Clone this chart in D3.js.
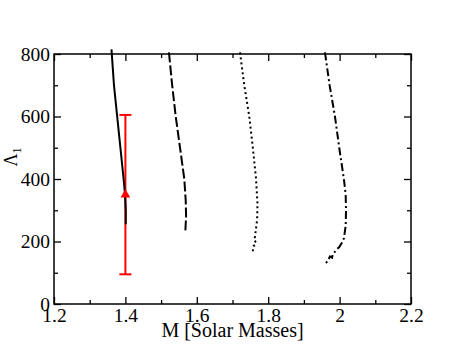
<!DOCTYPE html>
<html>
<head>
<meta charset="utf-8">
<script src="https://cdn.jsdelivr.net/npm/d3@7"></script>
<style>
  body { margin: 0; background: #fff; }
  svg text { font-family: "Liberation Serif", "DejaVu Serif", serif !important; }
</style>
</head>
<body>
<main></main>
<script>
// tick values
const xMajor = [1.2, 1.4, 1.6, 1.8, 2.0, 2.2];
const xMinor = [1.3, 1.5, 1.7, 1.9, 2.1];
const yMajor = [0, 200, 400, 600, 800];
const yMinor = [100, 300, 500, 700];

// mass-tidal deformability curves [M, Lambda]
const solidCurve = [[1.361, 815], [1.368, 700], [1.377, 600], [1.386, 500], [1.395, 400],
  [1.399, 350], [1.401, 300], [1.401, 255]];
const dashedCurve = [[1.522, 805], [1.531, 700], [1.541, 600], [1.553, 500], [1.565, 400],
  [1.569, 330], [1.570, 280], [1.568, 235]];
const dottedCurve = [[1.721, 805], [1.733, 700], [1.747, 600], [1.757, 500], [1.766, 400],
  [1.770, 320], [1.769, 270], [1.765, 235], [1.763, 215], [1.760, 205], [1.764, 200],
  [1.758, 190], [1.761, 185], [1.757, 172], [1.758, 160]];
const dashDotCurve = [[1.959, 805], [1.972, 700], [1.987, 600], [1.999, 500], [2.012, 400],
  [2.017, 350], [2.018, 300], [2.017, 250], [2.012, 210], [2.006, 195], [1.999, 182],
  [1.993, 176], [1.986, 166], [1.981, 160], [1.979, 148], [1.973, 152], [1.966, 136], [1.961, 131]];

// measurement with error bar
const measurement = { mass: 1.4, lambda: 350, low: 95, high: 605 };

const width = 463;
const height = 358;
const margin = { left: 54, right: 52, top: 54, bottom: 54 };
const tickFont = 19.5;

const svg = d3.select('main')
  .append('svg')
  .attr('width', width)
  .attr('height', height);

const xScale = d3.scaleLinear()
  .domain([1.2, 2.2])
  .range([margin.left, width - margin.right]);

const yScale = d3.scaleLinear()
  .domain([0, 800])
  .range([height - margin.bottom, margin.top]);

const plotW = width - margin.left - margin.right;
const plotH = height - margin.top - margin.bottom;

// ticks on all four sides, pointing inward
const addAxis = (axis, transform) => {
  const g = svg.append('g')
    .attr('transform', transform)
    .call(axis);
  g.select('.domain').remove();
  g.selectAll('line').attr('stroke', '#000').attr('stroke-width', 1.3);
  return g;
};

const xLabels = addAxis(d3.axisBottom(xScale).tickValues(xMajor).tickSizeInner(-7).tickSizeOuter(0)
  .tickPadding(4).tickFormat(d3.format('')), `translate(0, ${yScale(0)})`);
addAxis(d3.axisBottom(xScale).tickValues(xMinor).tickSize(-4).tickFormat(''), `translate(0, ${yScale(0)})`);
addAxis(d3.axisTop(xScale).tickValues(xMajor).tickSize(-7).tickFormat(''), `translate(0, ${yScale(800)})`);
addAxis(d3.axisTop(xScale).tickValues(xMinor).tickSize(-4).tickFormat(''), `translate(0, ${yScale(800)})`);

const yLabels = addAxis(d3.axisLeft(yScale).tickValues(yMajor).tickSizeInner(-7).tickSizeOuter(0)
  .tickPadding(4), `translate(${xScale(1.2)}, 0)`);
addAxis(d3.axisLeft(yScale).tickValues(yMinor).tickSize(-4).tickFormat(''), `translate(${xScale(1.2)}, 0)`);
addAxis(d3.axisRight(yScale).tickValues(yMajor).tickSize(-7).tickFormat(''), `translate(${xScale(2.2)}, 0)`);
addAxis(d3.axisRight(yScale).tickValues(yMinor).tickSize(-4).tickFormat(''), `translate(${xScale(2.2)}, 0)`);

[xLabels, yLabels].forEach(g => g.selectAll('text')
  .attr('font-size', tickFont)
  .attr('fill', '#000'));

// frame
svg.append('rect')
  .attr('x', margin.left)
  .attr('y', margin.top)
  .attr('width', plotW)
  .attr('height', plotH)
  .attr('fill', 'none')
  .attr('stroke', '#000')
  .attr('stroke-width', 1.5);

// error bar
const bar = svg.append('g').attr('stroke', '#ff0000').attr('stroke-width', 2);
bar.append('line')
  .attr('x1', xScale(measurement.mass)).attr('x2', xScale(measurement.mass))
  .attr('y1', yScale(measurement.low)).attr('y2', yScale(measurement.high));
[measurement.low, measurement.high].forEach(v => {
  bar.append('line')
    .attr('x1', xScale(measurement.mass) - 6).attr('x2', xScale(measurement.mass) + 6)
    .attr('y1', yScale(v)).attr('y2', yScale(v));
});

// curves
const line = d3.line()
  .x(d => xScale(d[0]))
  .y(d => yScale(d[1]));

const curves = [
  { data: solidCurve, dash: null },
  { data: dashedCurve, dash: '10,3' },
  { data: dottedCurve, dash: '2,3' },
  { data: dashDotCurve, dash: '8,3,2,3' }
];

svg.selectAll('path.curve')
  .data(curves)
  .enter()
  .append('path')
  .attr('class', 'curve')
  .attr('d', c => line(c.data))
  .attr('fill', 'none')
  .attr('stroke', '#000')
  .attr('stroke-width', 2)
  .attr('stroke-dasharray', c => c.dash);

// triangle marker
svg.append('path')
  .attr('d', d3.symbol(d3.symbolTriangle, 40)())
  .attr('transform', `translate(${xScale(measurement.mass)}, ${yScale(measurement.lambda)})`)
  .attr('fill', '#ff0000');

// axis titles
svg.append('text')
  .text('M [Solar Masses]')
  .attr('x', margin.left + plotW / 2)
  .attr('y', 337)
  .attr('text-anchor', 'middle')
  .attr('font-size', 20);

const yTitle = svg.append('text')
  .attr('transform', `translate(17, 157) rotate(-90)`)
  .attr('text-anchor', 'middle')
  .attr('font-size', 18);
yTitle.append('tspan').text('Λ');
yTitle.append('tspan').text('1').attr('font-size', 12).attr('dy', 4);
</script>
</body>
</html>
